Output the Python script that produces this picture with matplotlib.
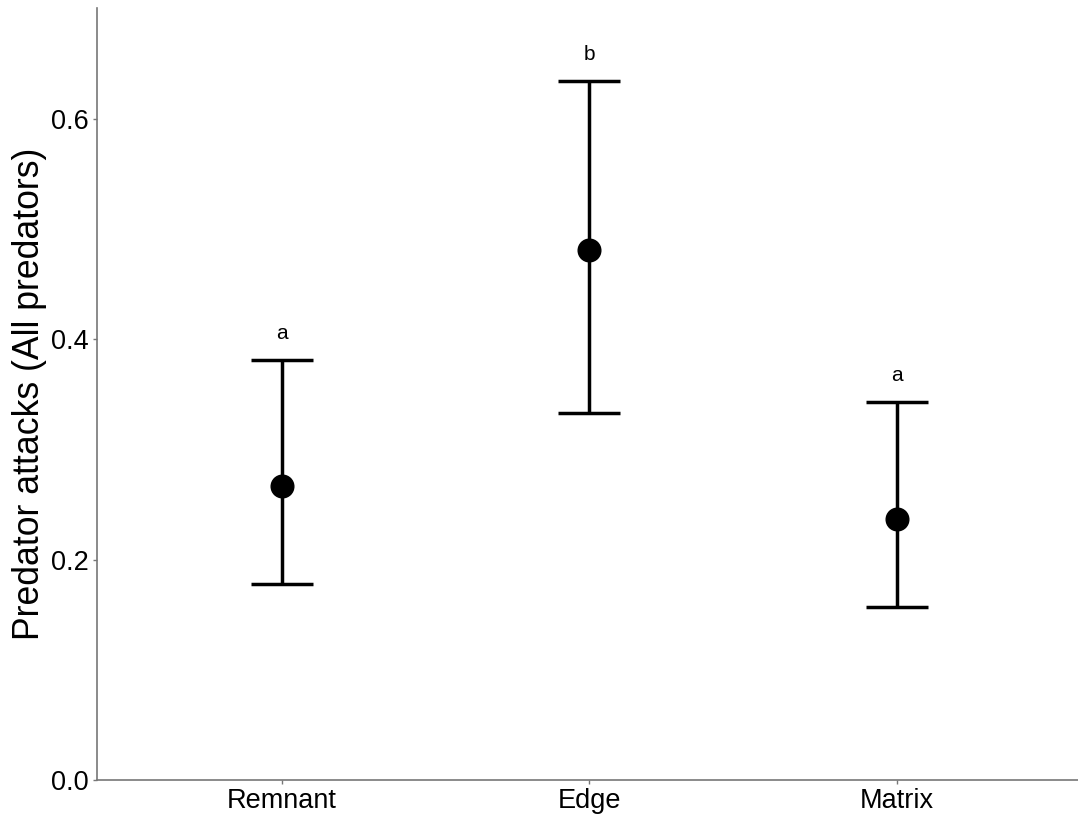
import matplotlib
matplotlib.use("Agg")
import matplotlib.pyplot as plt

categories = ["Remnant", "Edge", "Matrix"]
means = [0.267, 0.481, 0.237]
upper = [0.381, 0.634, 0.343]
lower = [0.178, 0.333, 0.157]
letters = ["a", "b", "a"]
yticks = [0.0, 0.2, 0.4, 0.6]

plt.rcParams['font.family'] = ['Liberation Sans', 'DejaVu Sans']

fig = plt.figure(figsize=(10.78, 8.25), dpi=100)
ax = fig.add_axes([0.09, 0.0545, 0.913, 0.9355])

x = list(range(1, len(categories) + 1))
yerr = [[m - l for m, l in zip(means, lower)], [u - m for m, u in zip(means, upper)]]
ax.errorbar(x, means, yerr=yerr, fmt='o', color='black', ecolor='black',
            elinewidth=2.5, capsize=22, capthick=2.5, markersize=16.3, zorder=3)
for xi, u, lab in zip(x, upper, letters):
    ax.text(xi, u + 0.024, lab, ha='center', va='center', fontsize=15)

ax.set_xlim(0.4, 3.6)
ax.set_ylim(0, 0.7)
ax.set_xticks(x)
ax.set_xticklabels(categories, fontsize=19.5)
ax.set_yticks(yticks)
ax.set_yticklabels([f"{t:.1f}" for t in yticks], fontsize=19.5)
ax.set_ylabel("Predator attacks (All predators)", fontsize=25.7, labelpad=3)
for s in ['top', 'right']:
    ax.spines[s].set_visible(False)
for s in ['left', 'bottom']:
    ax.spines[s].set_color('#777777')
    ax.spines[s].set_linewidth(1.2)
ax.tick_params(axis='both', color='#777777', length=3, width=1, colors='black', pad=3)
ax.tick_params(axis='both', which='both', color='#777777')

fig.savefig("out.png", dpi=100)
